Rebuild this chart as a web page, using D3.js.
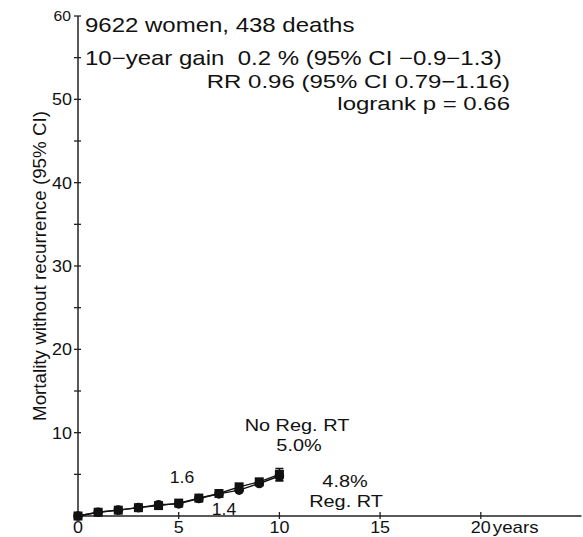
<!DOCTYPE html>
<html><head><meta charset="utf-8">
<script src="https://cdn.jsdelivr.net/npm/d3@7"></script>
<style>body{margin:0;background:#fff}svg{display:block}text{font-family:"Liberation Sans",Arial,sans-serif;fill:#111;white-space:pre}</style>
</head><body><svg id="c" width="583" height="537"></svg>
<script>
const years = [0,1,2,3,4,5,6,7,8,9,10];
const noRegRT = [0,0.45,0.7,1.0,1.25,1.55,2.15,2.7,3.5,4.1,5.0];
const regRT   = [0,0.45,0.7,1.0,1.35,1.45,2.1,2.65,3.1,3.9,4.8];
const ciNoReg = [4.3,5.7];
const ciReg = [4.2,5.4];
const yTicks = [0,10,20,30,40,50,60];
const yMinor = [5,15,25,35,45,55];
const xTicks = [0,5,10,15,20];
const headerLines = ["9622 women, 438 deaths","10\u2212year gain  0.2 % (95% CI \u22120.9\u22121.3)","RR 0.96 (95% CI 0.79\u22121.16)","logrank p = 0.66"];

const svg = d3.select("#c");
const x = d3.scaleLinear().domain([0,25]).range([78,581.5]);
const y = d3.scaleLinear().domain([0,60]).range([516,16]);
const ax = "#222";

function txt(px, py, s, size, anchor, sx){
  return svg.append("text").attr("transform",`translate(${px},${py}) scale(${sx||1},1)`)
    .attr("text-anchor",anchor||"start").attr("font-size",size).text(s);
}

// axes
svg.append("line").attr("x1",x(0)).attr("x2",x(25)).attr("y1",y(0)).attr("y2",y(0)).attr("stroke",ax).attr("stroke-width",1.5);
svg.append("line").attr("x1",x(0)).attr("x2",x(0)).attr("y1",y(0)).attr("y2",y(60)).attr("stroke",ax).attr("stroke-width",1.5);
yTicks.concat(yMinor).forEach(v=>{
  svg.append("line").attr("x1",x(0)-4).attr("x2",x(0)+3).attr("y1",y(v)).attr("y2",y(v)).attr("stroke",ax).attr("stroke-width",1.3);
});
yTicks.filter(v=>v>0).forEach(v=>{
  if (v===60) txt(x(0)-7, y(v)+5, String(v), 14, "end", 1.12);
  else txt(x(0)-6, y(v)+6, String(v), 16, "end", 1.12);
});
xTicks.forEach(v=>{
  svg.append("line").attr("x1",x(v)).attr("x2",x(v)).attr("y1",y(0)-4).attr("y2",y(0)+3).attr("stroke",ax).attr("stroke-width",1.3);
  txt(x(v), 533, String(v), 16, "middle", 1.12);
});
txt(x(20)+12, 533, "years", 16, "start", 1.17);
svg.append("text").attr("transform","translate(46,266) rotate(-90)").attr("text-anchor","middle").attr("font-size",18.8).text("Mortality without recurrence (95% CI)");

// header
txt(85, 32, headerLines[0], 20, "start", 1.2);
txt(85, 65, headerLines[1], 20, "start", 1.2);
txt(510, 88, headerLines[2], 18.6, "end", 1.29);
txt(510, 110, headerLines[3], 18.6, "end", 1.29);

// series
const line = d3.line().x((d,i)=>x(years[i])).y(d=>y(d));
[noRegRT,regRT].forEach(s=>{
  svg.append("path").attr("d",line(s)).attr("fill","none").attr("stroke","#111").attr("stroke-width",1.4);
});
[[ciNoReg,noRegRT],[ciReg,regRT]].forEach(([ci,s])=>{
  const xv=x(years[years.length-1]);
  svg.append("line").attr("x1",xv).attr("x2",xv).attr("y1",y(ci[0])).attr("y2",y(ci[1])).attr("stroke","#111").attr("stroke-width",1.5);
  [ci[0],ci[1]].forEach(c=>svg.append("line").attr("x1",xv-4).attr("x2",xv+4).attr("y1",y(c)).attr("y2",y(c)).attr("stroke","#111").attr("stroke-width",1.5));
});
svg.selectAll("circle.r").data(regRT).enter().append("circle").attr("cx",(d,i)=>x(years[i])).attr("cy",d=>y(d)).attr("r",4.8).attr("fill","#111");
svg.selectAll("rect.n").data(noRegRT).enter().append("rect").attr("x",(d,i)=>x(years[i])-4.5).attr("y",d=>y(d)-4.5).attr("width",9).attr("height",9).attr("fill","#111");

// annotations
txt(297, 431, "No Reg. RT", 17, "middle", 1.17);
txt(299, 451, noRegRT[10].toFixed(1)+"%", 17, "middle", 1.17);
txt(345, 487, regRT[10].toFixed(1)+"%", 17, "middle", 1.17);
txt(346, 507, "Reg. RT", 17, "middle", 1.17);
txt(182, 483, "1.6", 16, "middle", 1.1);
txt(224, 515, "1.4", 16, "middle", 1.1);
</script></body></html>
